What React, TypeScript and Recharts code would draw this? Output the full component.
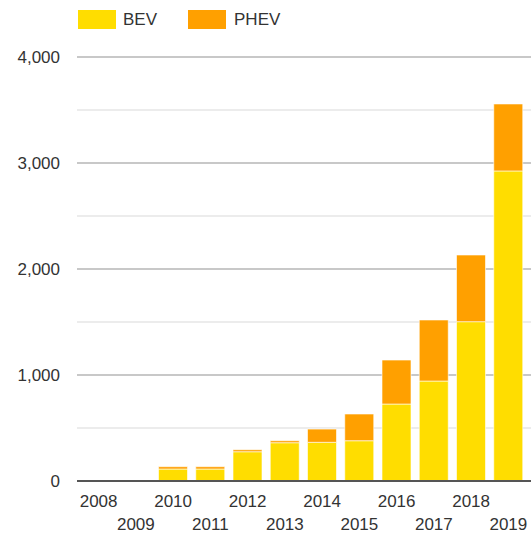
import React from 'react';
import { BarChart, Bar, XAxis, YAxis, CartesianGrid } from 'recharts';

const years = ['2008', '2009', '2010', '2011', '2012', '2013', '2014', '2015', '2016', '2017', '2018', '2019'];
const bev = [0, 0, 113, 113, 276, 361, 365, 380, 726, 943, 1503, 2925];
const phev = [0, 0, 22, 22, 19, 19, 125, 252, 415, 576, 629, 632];
const majorGrid = [1000, 2000, 3000, 4000];
const minorGrid = [500, 1500, 2500, 3500];

const data = years.map((year, i) => ({ year, bev: bev[i], phev: phev[i] }));

const font = 'Liberation Sans, Arial, sans-serif';

const YTick = (props: any) => {
  const { y, payload } = props;
  return (
    <text x={60} y={y} dy={6} textAnchor="end" fontSize={17} fill="#333" fontFamily={font}>
      {payload.value.toLocaleString('en-US')}
    </text>
  );
};

const XTick = (props: any) => {
  const { x, payload, index } = props;
  const row = index % 2;
  return (
    <text x={x} y={row === 0 ? 507 : 530} textAnchor="middle" fontSize={17} fill="#333" fontFamily={font}>
      {payload.value}
    </text>
  );
};

export default function App() {
  return (
    <div style={{ position: 'fixed', left: 0, top: 0, width: 531, height: 535, background: '#fff' }}>
      <div style={{ position: 'absolute', left: 78, top: 10, display: 'flex', alignItems: 'center', fontFamily: font, fontSize: 17, color: '#333', lineHeight: '19px' }}>
        <span style={{ width: 38, height: 19, background: '#ffdd00', display: 'inline-block', marginRight: 7 }} />
        <span style={{ marginRight: 31 }}>BEV</span>
        <span style={{ width: 38, height: 19, background: '#ffa000', display: 'inline-block', marginRight: 8 }} />
        <span>PHEV</span>
      </div>
      <BarChart width={531} height={535} data={data} margin={{ top: 57, right: 0, left: 0, bottom: 24 }} barSize={29}>
        <CartesianGrid vertical={false} horizontalValues={minorGrid} stroke="#ececec" strokeWidth={2} />
        <CartesianGrid vertical={false} horizontalValues={majorGrid} stroke="#c8c8c8" strokeWidth={2} />
        <YAxis width={77} domain={[0, 4000]} ticks={[0, ...majorGrid]} axisLine={false} tickLine={false} tick={<YTick />} interval={0} />
        <XAxis dataKey="year" height={30} interval={0} axisLine={{ stroke: '#555', strokeWidth: 2 }} tickLine={false} tick={<XTick />} padding={{ left: 3, right: 4 }} />
        <Bar dataKey="bev" stackId="a" fill="#ffdd00" stroke="#ffffff" strokeOpacity={0.6} strokeWidth={1} isAnimationActive={false} />
        <Bar dataKey="phev" stackId="a" fill="#ffa000" stroke="#ffffff" strokeOpacity={0.6} strokeWidth={1} isAnimationActive={false} />
      </BarChart>
    </div>
  );
}
